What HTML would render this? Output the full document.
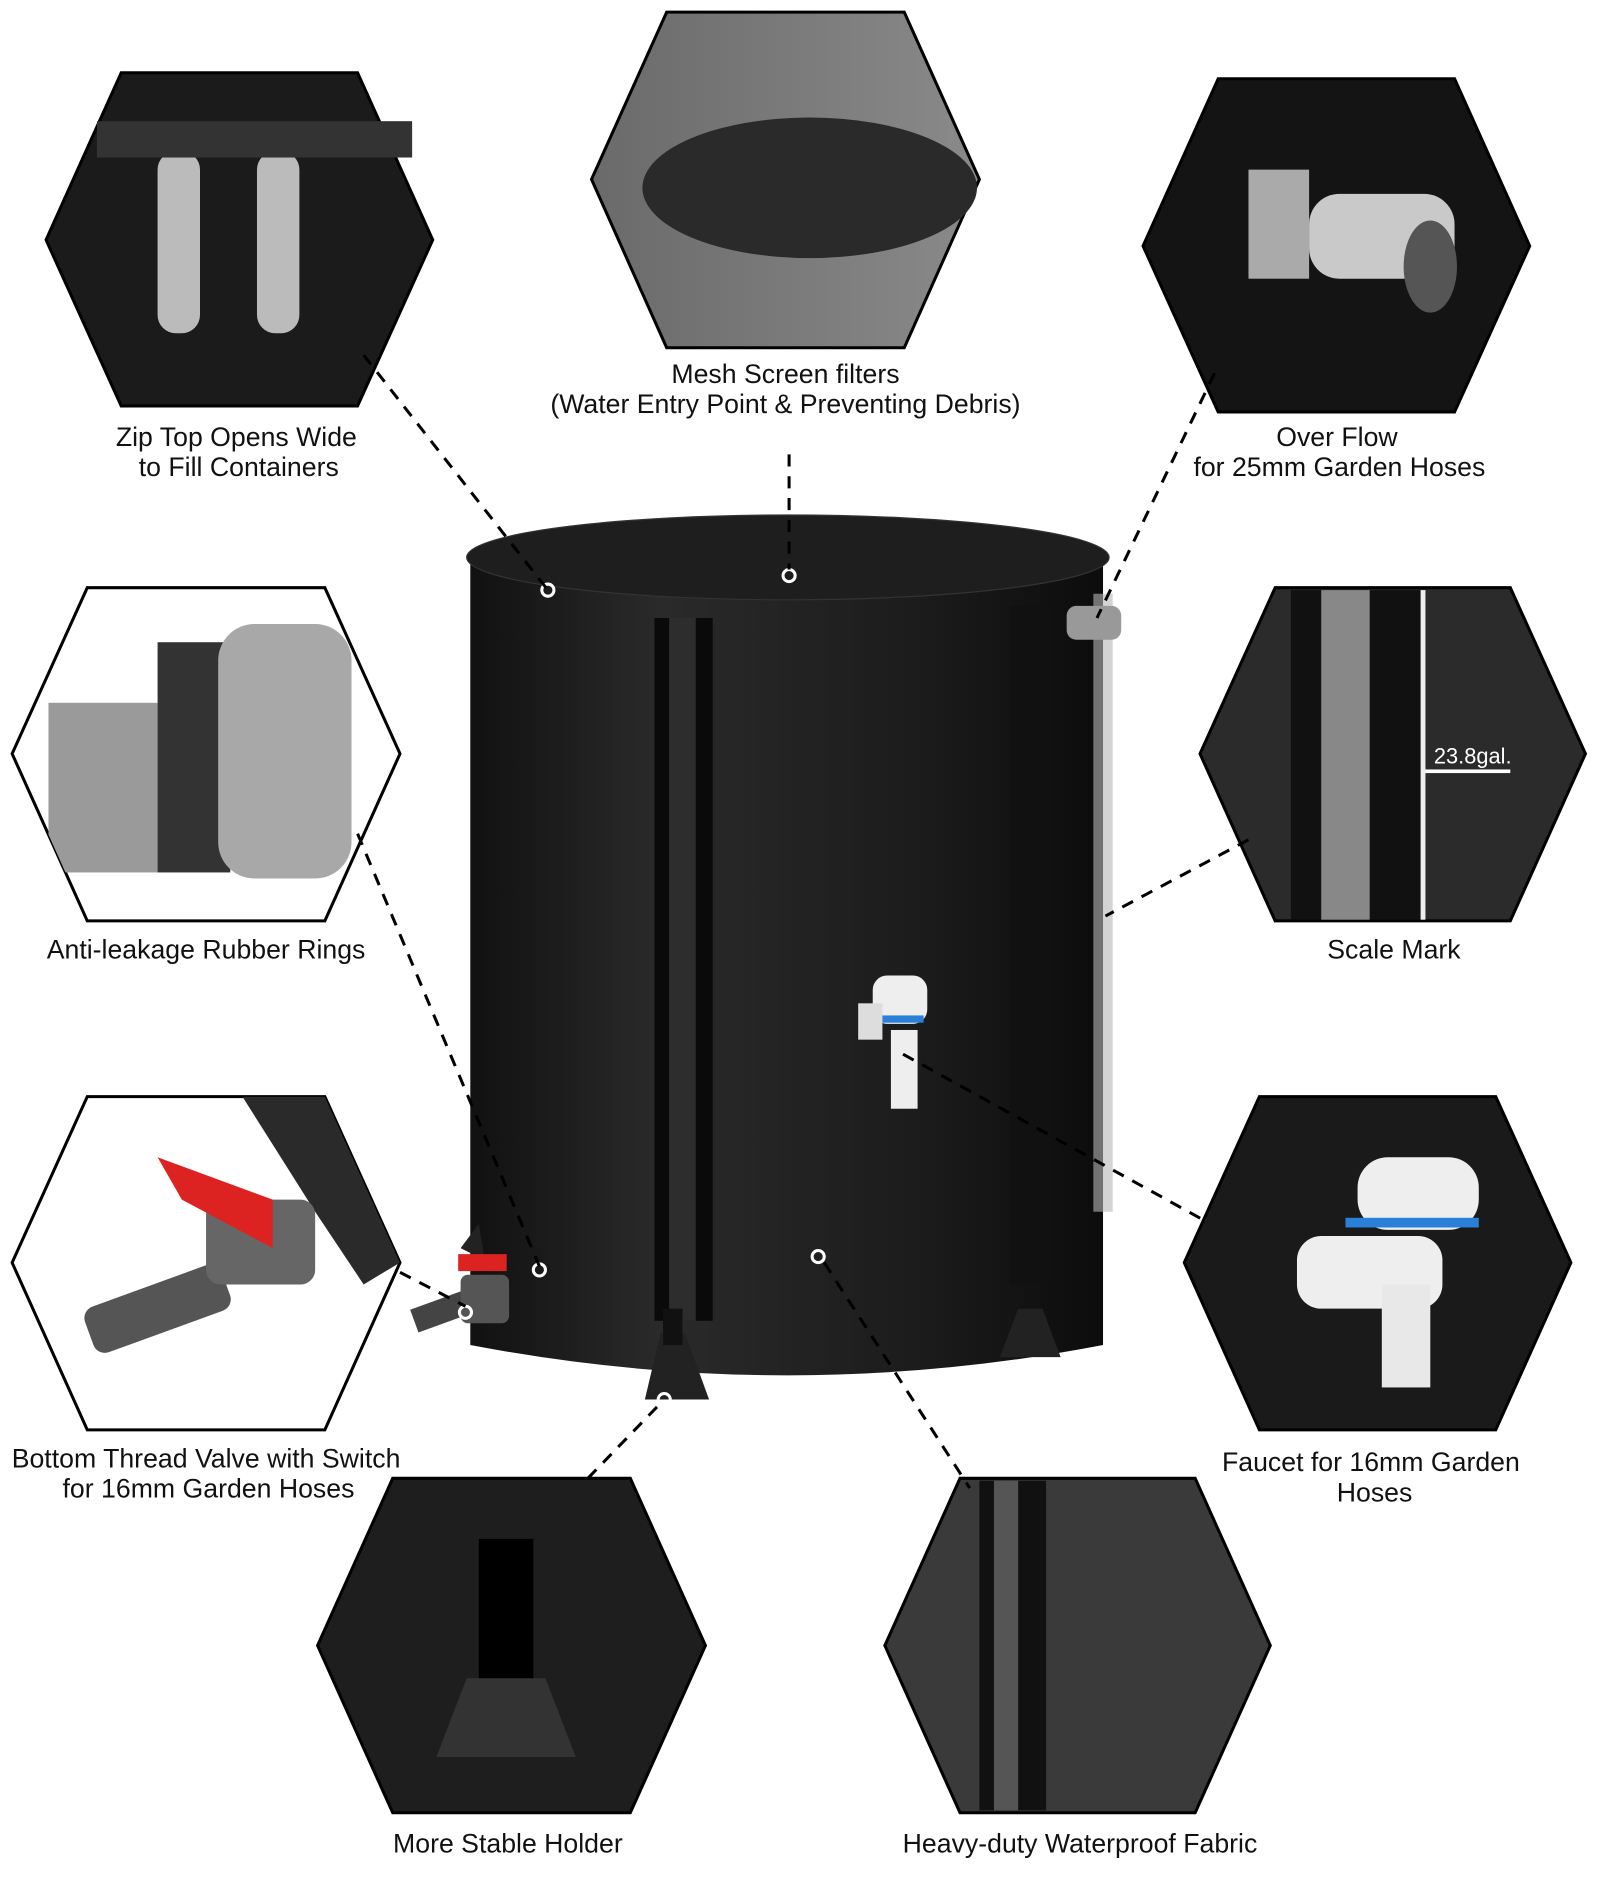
<!DOCTYPE html>
<html><head><meta charset="utf-8"><style>
html,body{margin:0;padding:0;background:#fff;}
svg{display:block;}
text{font-family:"Liberation Sans",sans-serif;font-size:22px;fill:#111;text-anchor:middle;}
</style></head><body>
<svg width="1600" height="1900" viewBox="0 0 1320 1568" preserveAspectRatio="none" xmlns="http://www.w3.org/2000/svg">
<defs>
<linearGradient id="bar" x1="0" x2="1"><stop offset="0" stop-color="#111"/><stop offset="0.3" stop-color="#2a2a2a"/><stop offset="0.7" stop-color="#1c1c1c"/><stop offset="1" stop-color="#0c0c0c"/></linearGradient>
<linearGradient id="gry" x1="0" x2="1"><stop offset="0" stop-color="#6a6a6a"/><stop offset="1" stop-color="#8a8a8a"/></linearGradient>
<clipPath id="c4"><polygon points="10,622 72,485 268,485 330,622 268,760 72,760"/></clipPath>
<clipPath id="c6"><polygon points="10,1042 72,905 268,905 330,1042 268,1180 72,1180"/></clipPath>
</defs>
<g stroke="#000" stroke-width="2.5">
<polygon points="38,198 100,60 295,60 357,198 295,335 100,335" fill="#1b1b1b"/>
<polygon points="488,148 550,10 746,10 808,148 746,287 550,287" fill="url(#gry)"/>
<polygon points="943,203 1005,65 1200,65 1262,203 1200,340 1005,340" fill="#141414"/>
<polygon points="10,622 72,485 268,485 330,622 268,760 72,760" fill="#fff"/>
<polygon points="990,622 1052,485 1246,485 1308,622 1246,760 1052,760" fill="#2b2b2b"/>
<polygon points="10,1042 72,905 268,905 330,1042 268,1180 72,1180" fill="#fff"/>
<polygon points="977,1042 1039,905 1234,905 1296,1042 1234,1180 1039,1180" fill="#1a1a1a"/>
<polygon points="262,1358 324,1220 520,1220 582,1358 520,1496 324,1496" fill="#1e1e1e"/>
<polygon points="730,1358 792,1220 986,1220 1048,1358 986,1496 792,1496" fill="#3a3a3a"/>
</g>
<rect x="130" y="125" width="35" height="150" rx="15" fill="#bbb"/><rect x="212" y="125" width="35" height="150" rx="15" fill="#bbb"/>
<rect x="80" y="100" width="260" height="30" fill="#333"/>
<ellipse cx="668" cy="155" rx="138" ry="58" fill="#2a2a2a"/>
<rect x="1030" y="140" width="50" height="90" fill="#aaa"/><rect x="1080" y="160" width="120" height="70" rx="25" fill="#c9c9c9"/><ellipse cx="1180" cy="220" rx="22" ry="38" fill="#555"/>
<g clip-path="url(#c4)"><rect x="40" y="580" width="90" height="140" fill="#9a9a9a"/><rect x="130" y="530" width="60" height="190" fill="#333"/><rect x="180" y="515" width="110" height="210" rx="30" fill="#a8a8a8"/></g>
<rect x="1065" y="487" width="110" height="272" fill="#111"/><rect x="1090" y="487" width="40" height="272" fill="#888"/><rect x="1172" y="487" width="4" height="272" fill="#eee"/>
<text x="1215" y="630" style="fill:#fff;font-size:18px">23.8gal.</text><rect x="1176" y="635" width="70" height="3" fill="#fff"/>
<g clip-path="url(#c6)"><path d="M200,905 L268,905 L330,1042 L300,1060 L260,1000 Z" fill="#2a2a2a"/>
<rect x="70" y="1060" width="120" height="40" rx="10" fill="#555" transform="rotate(-20 130 1080)"/><rect x="170" y="990" width="90" height="70" rx="12" fill="#666"/><path d="M130,955 L225,990 L225,1030 L150,990 Z" fill="#d22"/></g>
<rect x="1120" y="955" width="100" height="60" rx="25" fill="#eee"/><rect x="1110" y="1005" width="110" height="8" fill="#2a7fd9"/><rect x="1070" y="1020" width="120" height="60" rx="20" fill="#eee"/><rect x="1140" y="1060" width="40" height="85" fill="#e8e8e8"/>
<rect x="395" y="1270" width="45" height="140" fill="#000"/><path d="M360,1450 L385,1385 L450,1385 L475,1450 Z" fill="#333"/>
<rect x="808" y="1222" width="55" height="272" fill="#111"/><rect x="820" y="1222" width="20" height="272" fill="#555"/>
<path d="M388,460 L388,1110 Q650,1160 910,1110 L910,460 Z" fill="url(#bar)"/>
<ellipse cx="650" cy="460" rx="265" ry="35" fill="#1e1e1e" stroke="#333"/>
<rect x="540" y="510" width="48" height="580" fill="#0a0a0a"/><rect x="552" y="510" width="22" height="580" fill="#2d2d2d"/>
<rect x="833" y="500" width="34" height="560" fill="#111"/>
<rect x="902" y="490" width="16" height="510" fill="#b8b8b8" opacity="0.6"/>
<rect x="880" y="500" width="45" height="28" rx="8" fill="#999"/>
<path d="M380,1030 L395,1010 L400,1040 Z" fill="#222"/>
<path d="M532,1155 L545,1100 L565,1100 L585,1155 Z" fill="#222"/><rect x="547" y="1080" width="16" height="30" fill="#111"/>
<path d="M825,1120 L840,1080 L860,1080 L875,1120 Z" fill="#222"/>
<rect x="720" y="805" width="45" height="40" rx="12" fill="#eee"/><rect x="722" y="838" width="40" height="6" fill="#2a7fd9"/><rect x="735" y="850" width="22" height="65" fill="#eee"/><rect x="708" y="828" width="20" height="30" fill="#ddd"/>
<rect x="340" y="1070" width="60" height="20" fill="#444" transform="rotate(-20 370 1080)"/><rect x="380" y="1052" width="40" height="40" rx="6" fill="#555"/><rect x="378" y="1035" width="40" height="14" fill="#d22"/>
<g fill="none" stroke="#fff" stroke-width="2.5"><circle cx="452" cy="487" r="5"/><circle cx="651" cy="475" r="5"/><circle cx="445" cy="1048" r="5"/><circle cx="675" cy="1037" r="5"/><circle cx="548" cy="1155" r="5"/><circle cx="384" cy="1083" r="5"/></g>
<g stroke="#000" stroke-width="2.5" stroke-dasharray="10,8" fill="none">
<line x1="300" y1="293" x2="452" y2="487"/>
<line x1="651" y1="375" x2="651" y2="470"/>
<line x1="1002" y1="308" x2="905" y2="510"/>
<line x1="295" y1="688" x2="445" y2="1045"/>
<line x1="1030" y1="693" x2="912" y2="756"/>
<line x1="330" y1="1050" x2="384" y2="1078"/>
<line x1="745" y1="870" x2="995" y2="1008"/>
<line x1="485" y1="1220" x2="545" y2="1158"/>
<line x1="680" y1="1042" x2="800" y2="1228"/>
</g>
<text x="195" y="368">Zip Top Opens Wide</text><text x="197" y="393">to Fill Containers</text>
<text x="648" y="316">Mesh Screen filters</text><text x="648" y="341">(Water Entry Point &amp; Preventing Debris)</text>
<text x="1103" y="368">Over Flow</text><text x="1105" y="393">for 25mm Garden Hoses</text>
<text x="170" y="791">Anti-leakage Rubber Rings</text>
<text x="1150" y="791">Scale Mark</text>
<text x="170" y="1211">Bottom Thread Valve with Switch</text><text x="172" y="1236">for 16mm Garden Hoses</text>
<text x="1131" y="1214">Faucet for 16mm Garden</text><text x="1134" y="1239">Hoses</text>
<text x="419" y="1529">More Stable Holder</text>
<text x="891" y="1529">Heavy-duty Waterproof Fabric</text>
</svg>
</body></html>
